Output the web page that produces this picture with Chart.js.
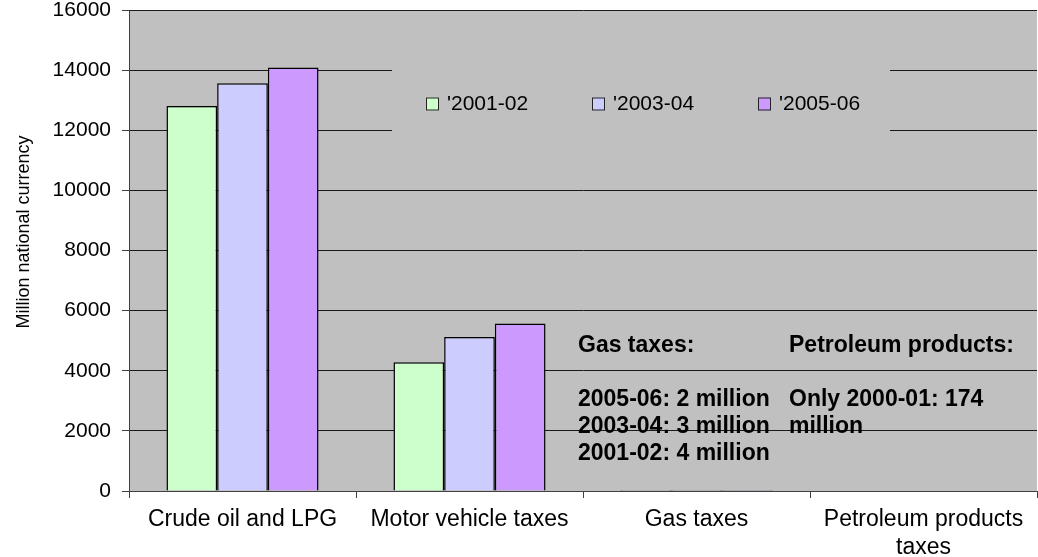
<!DOCTYPE html>
<html>
<head>
<meta charset="utf-8">
<title>Taxes chart</title>
<script src="https://cdn.jsdelivr.net/npm/chart.js@4.4.1/dist/chart.umd.min.js"></script>
<style>
  html, body { margin: 0; padding: 0; background: #ffffff; }
  #wrap { width: 1038px; height: 557px; position: relative; }
</style>
</head>
<body>
<div id="wrap"><canvas id="chart"></canvas></div>
<script>
// data
const categories = ["Crude oil and LPG", "Motor vehicle taxes", "Gas taxes", ["Petroleum products", "taxes"]];
const seriesNames = ["'2001-02", "'2003-04", "'2005-06"];
const values2001 = [12810, 4280, 4, null];
const values2003 = [13560, 5120, 3, null];
const values2005 = [14090, 5570, 2, null];
const yTicks = [0, 2000, 4000, 6000, 8000, 10000, 12000, 14000, 16000];
const yTitle = "Million national currency";
const gasNote = ["Gas taxes:", "", "2005-06: 2 million", "2003-04: 3 million", "2001-02: 4 million"];
const petroNote = ["Petroleum products:", "", "Only 2000-01: 174", "million"];

const FONT = "Arial, 'Liberation Sans', sans-serif";
const PLOT_BG = "#c0c0c0";
Chart.defaults.font.family = FONT;
Chart.defaults.color = "#000";

// gray plot area behind the grid
const plotBackground = {
  id: "plotBackground",
  beforeDraw(chart) {
    const { ctx, chartArea: a } = chart;
    ctx.save();
    ctx.fillStyle = PLOT_BG;
    ctx.fillRect(a.left, a.top, a.right - a.left, a.bottom - a.top);
    ctx.restore();
  },
};

// legend sits inside the plot, on a patch of background
const innerLegend = {
  id: "innerLegend",
  afterDatasetsDraw(chart) {
    const ctx = chart.ctx;
    ctx.save();
    ctx.fillStyle = PLOT_BG;
    ctx.fillRect(392, 62, 498, 80);
    ctx.font = "21px " + FONT;
    ctx.textBaseline = "middle";
    ctx.textAlign = "left";
    chart.data.datasets.forEach((ds, i) => {
      const x = 426 + i * 166;
      const y = 104;
      ctx.fillStyle = ds.backgroundColor;
      ctx.fillRect(x, y - 6.5, 13, 13);
      ctx.strokeStyle = "#222";
      ctx.lineWidth = 1;
      ctx.strokeRect(x + 0.5, y - 6, 12, 12);
      ctx.fillStyle = "#000";
      ctx.fillText(ds.label, x + 21, y);
    });
    ctx.restore();
  },
};

// text notes and the axis title
const notes = {
  id: "notes",
  afterDraw(chart) {
    const ctx = chart.ctx;
    ctx.save();
    ctx.fillStyle = "#000";
    ctx.textAlign = "left";
    ctx.textBaseline = "alphabetic";
    ctx.font = "bold 23px " + FONT;
    gasNote.forEach((t, i) => ctx.fillText(t, 578, 352 + i * 27));
    petroNote.forEach((t, i) => ctx.fillText(t, 789, 352 + i * 27));

    ctx.font = "18px " + FONT;
    ctx.translate(24, 232);
    ctx.rotate(-Math.PI / 2);
    ctx.textAlign = "center";
    ctx.textBaseline = "middle";
    ctx.fillText(yTitle, 0, 0);
    ctx.restore();
  },
};

new Chart(document.getElementById("chart"), {
  type: "bar",
  data: {
    labels: categories,
    datasets: [
      { label: seriesNames[0], data: values2001, backgroundColor: "#ccffcc" },
      { label: seriesNames[1], data: values2003, backgroundColor: "#ccccff" },
      { label: seriesNames[2], data: values2005, backgroundColor: "#cc99ff" },
    ],
  },
  options: {
    responsive: true,
    maintainAspectRatio: false,
    animation: false,
    layout: { padding: { top: 0, right: 1, left: 0, bottom: 0 } },
    datasets: {
      bar: {
        categoryPercentage: 0.67,
        barPercentage: 1.0,
        borderColor: "#000",
        borderWidth: 1.5,
      },
    },
    plugins: {
      legend: { display: false },
      tooltip: { enabled: false },
    },
    scales: {
      x: {
        grid: { drawOnChartArea: false, tickLength: 7, color: "#404040" },
        border: { color: "#404040", width: 1 },
        ticks: { font: { size: 23 }, padding: 8, maxRotation: 0, autoSkip: false, color: "#000" },
        afterFit: (s) => { s.height = 66; },
      },
      y: {
        min: yTicks[0],
        max: yTicks[yTicks.length - 1],
        ticks: {
          stepSize: yTicks[1] - yTicks[0],
          font: { size: 21 },
          padding: 11,
          color: "#000",
          callback: (v) => String(v),
        },
        grid: { color: "#1a1a1a", lineWidth: 1, tickLength: 7, tickColor: "#404040" },
        border: { color: "#404040", width: 1 },
        afterFit: (s) => {
          s.width = 129;
          s.paddingTop = 10;
          s.paddingBottom = 0;
        },
      },
    },
  },
  plugins: [plotBackground, innerLegend, notes],
});
</script>
</body>
</html>
